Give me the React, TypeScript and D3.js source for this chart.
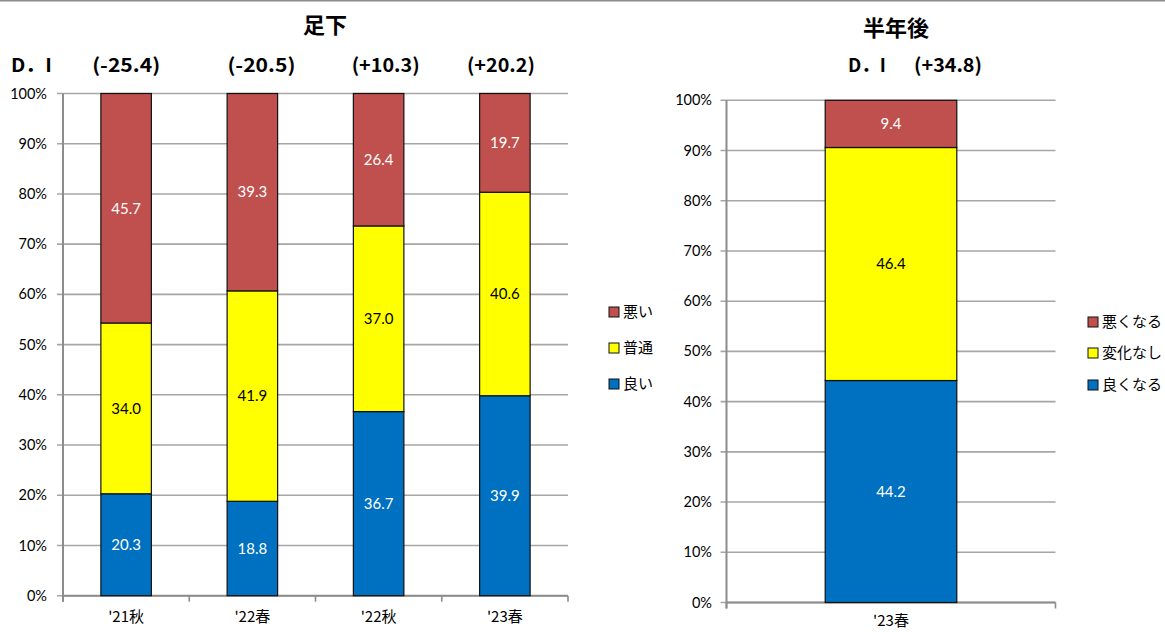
import React from "react";
import * as d3 from "d3";

// ---- Data ----
const nowCategories = ["'21秋", "'22春", "'22秋", "'23春"];
const nowGood = [20.3, 18.8, 36.7, 39.9];
const nowNormal = [34.0, 41.9, 37.0, 40.6];
const nowBad = [45.7, 39.3, 26.4, 19.7];
const nowDI = ["(-25.4)", "(-20.5)", "(+10.3)", "(+20.2)"];
const nowSeries = ["良い", "普通", "悪い"];

const futCategories = ["'23春"];
const futGood = [44.2];
const futSame = [46.4];
const futBad = [9.4];
const futDI = "(+34.8)";
const futSeries = ["良くなる", "変化なし", "悪くなる"];

const yTicks = [0, 0.1, 0.2, 0.3, 0.4, 0.5, 0.6, 0.7, 0.8, 0.9, 1.0];

const COLORS = ["#0070C0", "#FFFF00", "#C0504D"];
const LABEL_COLORS = ["#ffffff", "#000000", "#ffffff"];
const NUM_FONT = "Lato, 'Open Sans', 'Noto Sans', sans-serif";
const JP_FONT = "'Noto Sans CJK JP', 'Noto Sans', sans-serif";

type PanelProps = {
  categories: string[];
  series: number[][];
  x0: number;
  x1: number;
  yTop: number;
  yBottom: number;
  tickLabelX: number;
  catLabelY: number;
};

function Panel({ categories, series, x0, x1, yTop, yBottom, tickLabelX, catLabelY }: PanelProps) {
  const rows = categories.map((c, i) => ({
    cat: c,
    s0: series[0][i],
    s1: series[1][i],
    s2: series[2][i],
  }));
  const keys = ["s0", "s1", "s2"];
  const stacked = d3.stack<any>().keys(keys).offset(d3.stackOffsetExpand)(rows);
  const x = d3.scaleBand<string>().domain(categories).range([x0, x1]).padding(0);
  const y = d3.scaleLinear().domain([0, 1]).range([yBottom, yTop]);
  const bw = x.bandwidth() * 0.4;
  const boundaries = d3.range(categories.length + 1).map((i) => x0 + i * x.step());

  return (
    <g>
      {yTicks.map((t) => (
        <g key={t}>
          <line x1={x0 - 6} x2={x1} y1={y(t)} y2={y(t)} stroke="#a6a6a6" strokeWidth={1.6} />
          <text
            x={tickLabelX}
            y={y(t)}
            dy="0.35em"
            textAnchor="end"
            fontFamily={NUM_FONT}
            fontSize={14.5}
            fill="#000"
          >
            {d3.format(".0%")(t)}
          </text>
        </g>
      ))}
      <line x1={x0} x2={x0} y1={yTop} y2={yBottom + 6} stroke="#8c8c8c" strokeWidth={2} />
      <line x1={x0} x2={x1} y1={yBottom} y2={yBottom} stroke="#8c8c8c" strokeWidth={2} />
      {boundaries.map((bx, i) => (
        <line key={i} x1={bx} x2={bx} y1={yBottom} y2={yBottom + 6} stroke="#8c8c8c" strokeWidth={1.6} />
      ))}
      {stacked.map((layer, si) =>
        layer.map((d, i) => {
          const cx = (x(categories[i]) as number) + x.bandwidth() / 2;
          const yt = y(d[1]);
          const yb = y(d[0]);
          return (
            <g key={si + "-" + i}>
              <rect
                x={cx - bw / 2}
                y={yt}
                width={bw}
                height={yb - yt}
                fill={COLORS[si]}
                stroke="#111"
                strokeWidth={1.2}
              />
              <text
                x={cx}
                y={(yt + yb) / 2}
                dy="0.35em"
                textAnchor="middle"
                fontFamily={NUM_FONT}
                fontSize={15}
                fill={LABEL_COLORS[si]}
              >
                {series[si][i].toFixed(1)}
              </text>
            </g>
          );
        })
      )}
      {categories.map((c) => (
        <text
          key={c}
          x={(x(c) as number) + x.bandwidth() / 2}
          y={catLabelY}
          dy="0.35em"
          textAnchor="middle"
          fontFamily={JP_FONT}
          fontSize={15}
          fill="#000"
        >
          {c}
        </text>
      ))}
    </g>
  );
}

function Legend({ labels, x, ys }: { labels: string[]; x: number; ys: number[] }) {
  // legend lists top series first
  const order = [2, 1, 0];
  return (
    <g>
      {order.map((si, k) => (
        <g key={si}>
          <rect x={x} y={ys[k] - 5} width={10} height={10} fill={COLORS[si]} stroke="#111" strokeWidth={1} />
          <text x={x + 14} y={ys[k]} dy="0.36em" fontFamily={JP_FONT} fontSize={15} fill="#000">
            {labels[si]}
          </text>
        </g>
      ))}
    </g>
  );
}

export default function App() {
  const leftX0 = 63;
  const leftX1 = 568;
  const xl = d3.scaleBand<string>().domain(nowCategories).range([leftX0, leftX1]);
  const diOffsets = [0, 9, 7, -4];
  return (
    <svg
      width={1165}
      height={632}
      style={{ position: "absolute", left: 0, top: 0, background: "#fff" }}
    >
      <rect x={0} y={0} width={1165} height={632} fill="#fff" />
      <line x1={0} x2={1165} y1={0.5} y2={0.5} stroke="#8c8c8c" strokeWidth={2} />

      {/* Left chart */}
      <text x={325} y={33} textAnchor="middle" fontFamily={JP_FONT} fontWeight="bold" fontSize={22}>
        足下
      </text>
      <text x={11} y={72} fontFamily={JP_FONT} fontWeight="bold" fontSize={19} textLength={41} lengthAdjust="spacingAndGlyphs">
        D．I
      </text>
      {nowDI.map((t, i) => (
        <text
          key={t}
          x={(xl(nowCategories[i]) as number) + xl.bandwidth() / 2 + diOffsets[i] - 34}
          y={72}
          fontFamily={JP_FONT}
          fontWeight="bold"
          fontSize={19}
          textLength={68}
          lengthAdjust="spacingAndGlyphs"
        >
          {t}
        </text>
      ))}
      <Panel
        categories={nowCategories}
        series={[nowGood, nowNormal, nowBad]}
        x0={leftX0}
        x1={leftX1}
        yTop={93.5}
        yBottom={595.7}
        tickLabelX={47}
        catLabelY={617}
      />
      <Legend labels={nowSeries} x={609} ys={[312, 348, 384]} />

      {/* Right chart */}
      <text x={896} y={36} textAnchor="middle" fontFamily={JP_FONT} fontWeight="bold" fontSize={22}>
        半年後
      </text>
      <text x={848} y={72} fontFamily={JP_FONT} fontWeight="bold" fontSize={19} textLength={38} lengthAdjust="spacingAndGlyphs">
        D．I
      </text>
      <text x={914} y={72} fontFamily={JP_FONT} fontWeight="bold" fontSize={19} textLength={68} lengthAdjust="spacingAndGlyphs">
        {futDI}
      </text>
      <Panel
        categories={futCategories}
        series={[futGood, futSame, futBad]}
        x0={726.5}
        x1={1055.5}
        yTop={100.3}
        yBottom={602.5}
        tickLabelX={712}
        catLabelY={621}
      />
      <Legend labels={futSeries} x={1088} ys={[322, 353, 385]} />
    </svg>
  );
}
